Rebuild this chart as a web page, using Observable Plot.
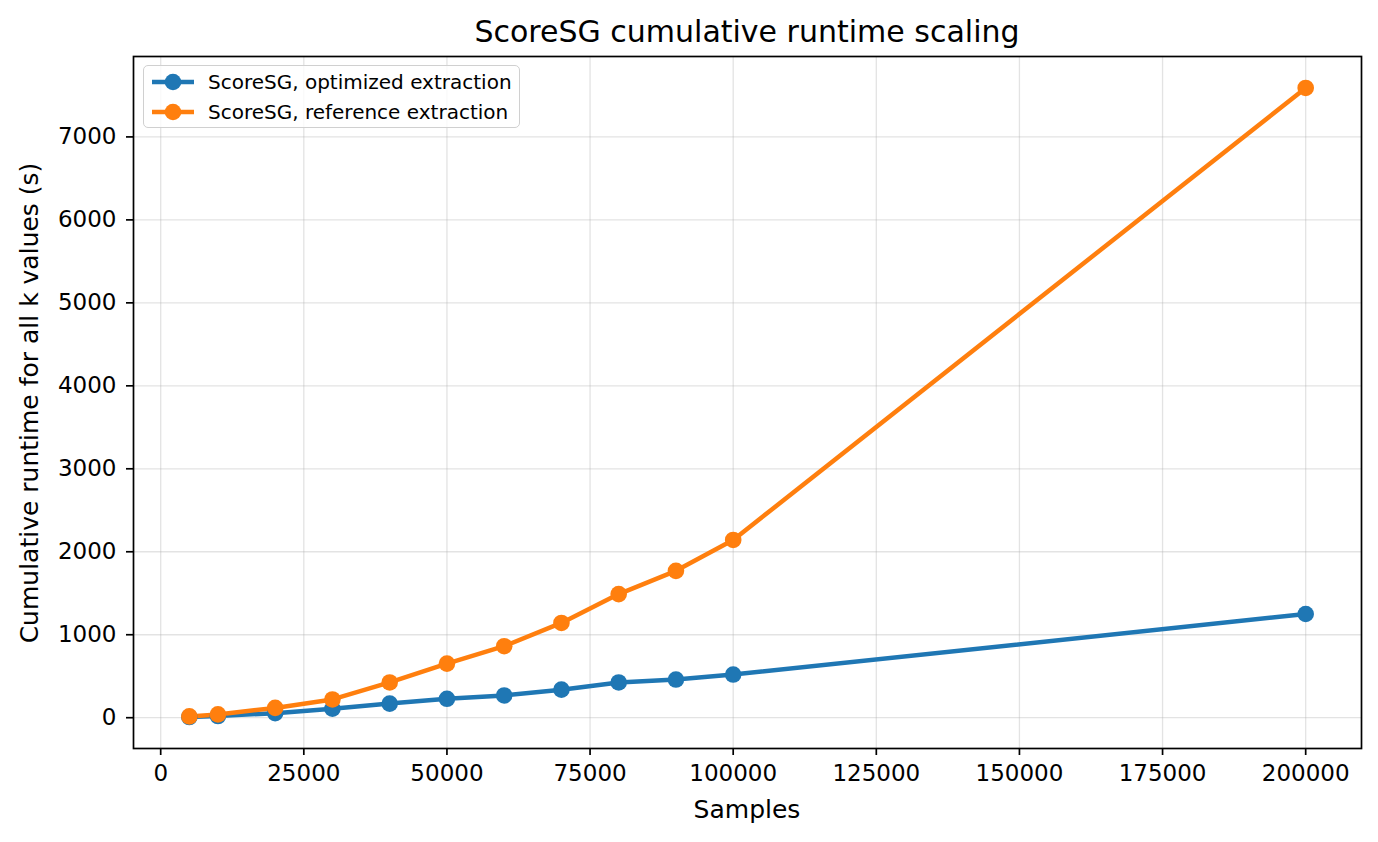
<!DOCTYPE html>
<html>
<head>
<meta charset="utf-8">
<script src="https://cdn.jsdelivr.net/npm/d3@7"></script>
<script src="https://cdn.jsdelivr.net/npm/@observablehq/plot@0.6"></script>
<style>
  html, body { margin: 0; padding: 0; background: white; }
  #wrap { position: relative; width: 1378px; height: 842px; font-family: "DejaVu Sans", sans-serif; color: black; }
  #title { position: absolute; left: 133px; width: 1228px; top: 15px; text-align: center; font-size: 30px; line-height: 34px; }
  #plot { position: absolute; left: 0; top: 50px; }
  #xlabel { position: absolute; left: 133px; width: 1228px; top: 795px; text-align: center; font-size: 25px; line-height: 30px; }
  #ylabel { position: absolute; left: 30px; top: 403px; font-size: 25px; line-height: 30px; white-space: nowrap; transform: translate(-50%, -50%) rotate(-90deg); }
  #legend { position: absolute; left: 143px; top: 65px; width: 377px; height: 63px; border: 1.5px solid #d0d0d0; border-radius: 5px; background: rgba(255,255,255,0.8); box-sizing: border-box; font-size: 20px; }
  .row { position: absolute; left: 0; height: 30px; display: flex; align-items: center; }
  .row svg { margin-left: 6px; margin-right: 12px; }
</style>
</head>
<body>
<div id="wrap">
  <div id="title">ScoreSG cumulative runtime scaling</div>
  <div id="plot"></div>
  <div id="xlabel">Samples</div>
  <div id="ylabel">Cumulative runtime for all k values (s)</div>
  <div id="legend"></div>
</div>
<script>
const samples = [5000, 10000, 20000, 30000, 40000, 50000, 60000, 70000, 80000, 90000, 100000, 200000];
const optimized = [8, 20, 55, 108, 170, 228, 268, 338, 425, 460, 520, 1250];
const reference = [16, 40, 118, 220, 425, 652, 862, 1142, 1490, 1770, 2142, 7590];
const seriesNames = ["ScoreSG, optimized extraction", "ScoreSG, reference extraction"];
const seriesColors = ["#1f77b4", "#ff7f0e"];
const xTicks = [0, 25000, 50000, 75000, 100000, 125000, 150000, 175000, 200000];
const yTicks = [0, 1000, 2000, 3000, 4000, 5000, 6000, 7000];

const rows = [];
samples.forEach((s, i) => rows.push({samples: s, runtime: optimized[i], series: seriesNames[0]}));
samples.forEach((s, i) => rows.push({samples: s, runtime: reference[i], series: seriesNames[1]}));

const xPad = (200000 - 5000) * 0.05;
const yMin = d3.min([...optimized, ...reference]), yMax = d3.max([...optimized, ...reference]);
const yPad = (yMax - yMin) * 0.05;

const chart = Plot.plot({
  width: 1378,
  height: 792,
  marginTop: 6,
  marginBottom: 94,
  marginLeft: 133,
  marginRight: 17,
  style: { fontFamily: "DejaVu Sans, sans-serif", fontSize: "23px", background: "white", color: "black" },
  x: { domain: [5000 - xPad, 200000 + xPad], ticks: xTicks, tickFormat: d => String(d), label: null },
  y: { domain: [yMin - yPad, yMax + yPad], ticks: yTicks, tickFormat: d => String(d), label: null },
  color: { domain: seriesNames, range: seriesColors },
  marks: [
    Plot.gridX(xTicks, { stroke: "#b0b0b0", strokeOpacity: 0.35, strokeWidth: 1.3 }),
    Plot.gridY(yTicks, { stroke: "#b0b0b0", strokeOpacity: 0.35, strokeWidth: 1.3 }),
    Plot.axisX(xTicks, { tickSize: 7, tickPadding: 9, strokeWidth: 1.7, tickFormat: d => String(d), label: null }),
    Plot.axisY(yTicks, { tickSize: 7, tickPadding: 10, strokeWidth: 1.7, tickFormat: d => String(d), label: null }),
    Plot.line(rows, { x: "samples", y: "runtime", z: "series", stroke: "series", strokeWidth: 4.5 }),
    Plot.dot(rows, { x: "samples", y: "runtime", fill: "series", r: 8.3 }),
    Plot.frame({ stroke: "black", strokeWidth: 1.7 })
  ]
});
document.getElementById("plot").appendChild(chart);

const legend = document.getElementById("legend");
seriesNames.forEach((name, i) => {
  const row = document.createElement("div");
  row.className = "row";
  row.style.top = (1 + i * 30) + "px";
  row.innerHTML = `<svg width="46" height="20"><line x1="2" x2="44" y1="10" y2="10" stroke="${seriesColors[i]}" stroke-width="4.5"/><circle cx="23" cy="10" r="8.3" fill="${seriesColors[i]}"/></svg><span>${name}</span>`;
  legend.appendChild(row);
});
</script>
</body>
</html>
